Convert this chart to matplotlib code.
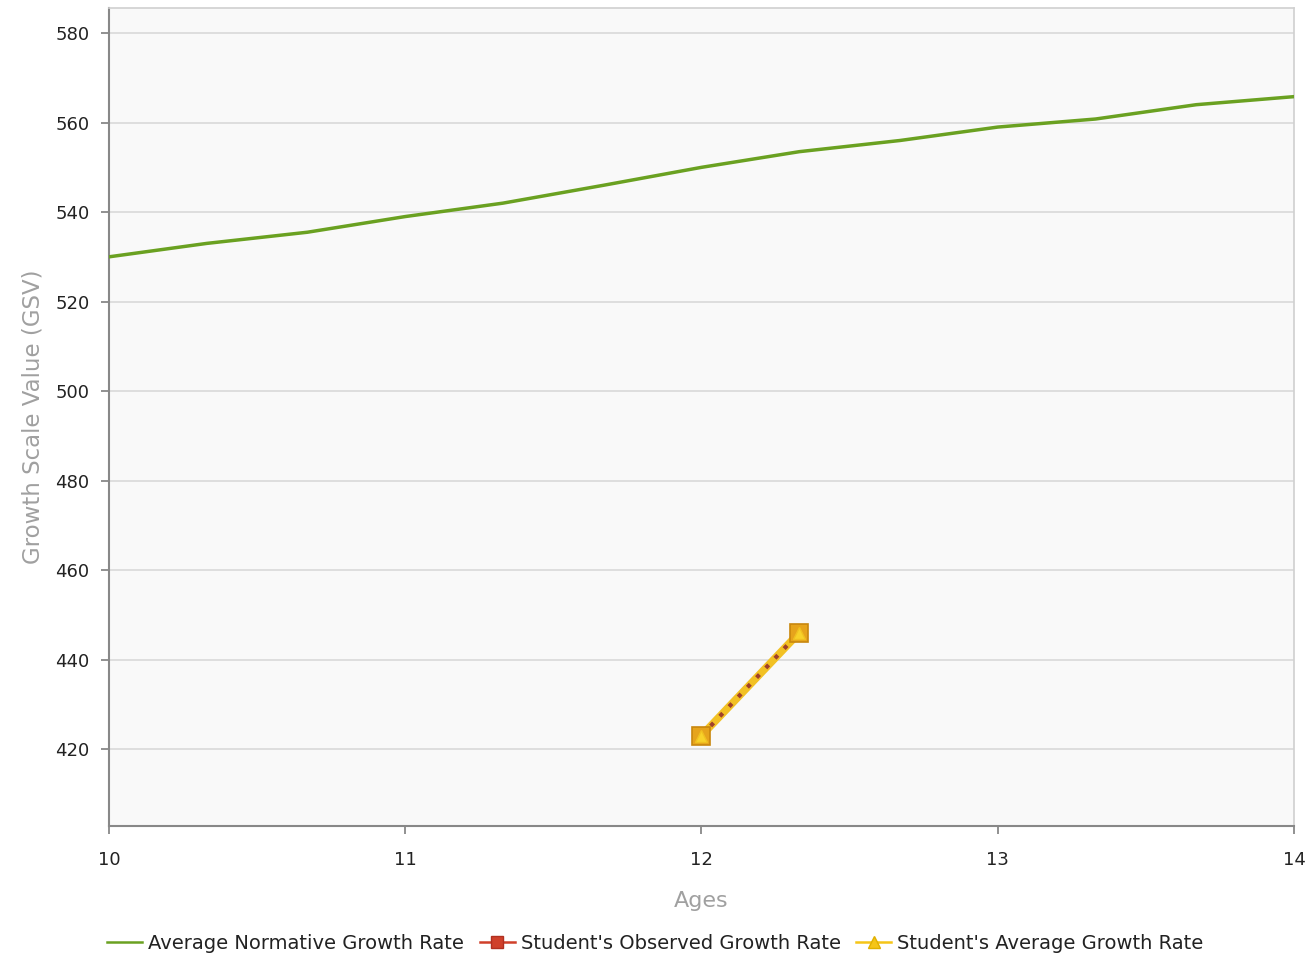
import matplotlib
matplotlib.use("Agg")
import matplotlib.pyplot as plt
from matplotlib.lines import Line2D

# Data
norm_ages = [10.0, 10.33, 10.67, 11.0, 11.33, 11.67, 12.0, 12.33, 12.67, 13.0, 13.33, 13.67, 14.0]
norm_gsv = [530, 533, 535.5, 539, 542, 546, 550, 553.5, 556, 559, 560.8, 564, 565.8]
student_ages = [12.0, 12.33]
observed_gsv = [423, 446]
average_gsv = [423, 446]
x_ticks = [10, 11, 12, 13, 14]
y_ticks = [420, 440, 460, 480, 500, 520, 540, 560, 580]

plt.rcParams['font.family'] = ['DejaVu Sans']

fig = plt.figure(figsize=(13.16, 9.58), dpi=100)
ax = fig.add_axes([0.0828, 0.1378, 0.9005, 0.8538])
ax.set_facecolor('#f9f9f9')

ax.set_xlim(10, 14)
ax.set_ylim(402.8, 585.6)
ax.set_xticks(x_ticks)
ax.set_yticks(y_ticks)
ax.grid(axis='y', color='#d9d9d9', linewidth=1.2, zorder=1)
ax.set_axisbelow(True)

ax.plot(norm_ages, norm_gsv, color='#6aa121', linewidth=2.5, zorder=3)
# average (gold thick line)
ax.plot(student_ages, average_gsv, color='#f2c124', linewidth=5.5, zorder=4,
        solid_capstyle='round')
# observed (red dotted on top)
ax.plot(student_ages, observed_gsv, color='#a0402a', linewidth=3, linestyle=(0, (1, 2.2)),
        zorder=5)
# markers: gold square with yellow triangle
ax.plot(student_ages, observed_gsv, linestyle='none', marker='s', markersize=13,
        markerfacecolor='#e6a41c', markeredgecolor='#c8870e', markeredgewidth=1.2, zorder=6)
ax.plot(student_ages, average_gsv, linestyle='none', marker='^', markersize=9,
        markerfacecolor='#f8d22a', markeredgecolor='#f0c020', zorder=7)

for s in ['top', 'right']:
    ax.spines[s].set_color('#d0d0d0')
    ax.spines[s].set_linewidth(1.2)
for s in ['left', 'bottom']:
    ax.spines[s].set_color('#888888')
    ax.spines[s].set_linewidth(1.5)

ax.tick_params(axis='both', colors='#888888', length=6, width=1.3, labelcolor='#222222', labelsize=13)
ax.tick_params(axis='y', pad=8)
ax.tick_params(axis='x', pad=12)

ax.set_xlabel('Ages', color='#a0a0a0', fontsize=16, labelpad=16)
ax.set_ylabel('Growth Scale Value (GSV)', color='#a0a0a0', fontsize=16.5, labelpad=8)

handles = [
    Line2D([], [], color='#6aa121', linewidth=1.8),
    Line2D([], [], color='#d0402a', linewidth=1.8, marker='s', markersize=8,
           markerfacecolor='#d0402a', markeredgecolor='#b03020'),
    Line2D([], [], color='#f5c518', linewidth=1.8, marker='^', markersize=9,
           markerfacecolor='#f5c518', markeredgecolor='#e0b000'),
]
labels = ['Average Normative Growth Rate', "Student's Observed Growth Rate",
          "Student's Average Growth Rate"]
fig.legend(handles, labels, loc='center', bbox_to_anchor=(0.498, 0.015), ncol=3,
           frameon=False, fontsize=14, handlelength=1.8, handletextpad=0.3,
           columnspacing=0.8, labelcolor='#222222')

fig.savefig('out.png', dpi=100, facecolor='white')
